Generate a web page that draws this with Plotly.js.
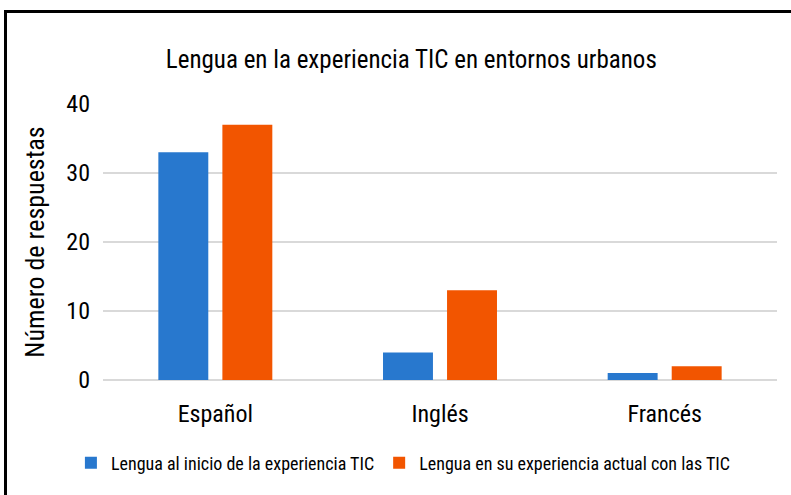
<!DOCTYPE html>
<html>
<head>
<meta charset="utf-8">
<script src="https://cdn.plot.ly/plotly-3.0.1.min.js"></script>
<style>
html,body{margin:0;padding:0;background:#fff;overflow:hidden;}
#wrap{position:relative;width:791px;height:495px;overflow:hidden;}
#chart{position:absolute;left:0;top:0;width:791px;height:495px;}
#frame{position:absolute;left:4px;top:10px;width:820px;height:520px;border:3px solid #000;pointer-events:none;}
</style>
</head>
<body>
<div id="wrap"><div id="chart"></div><div id="frame"></div></div>
<script>
const categories = ["Español", "Inglés", "Francés"];
const seriesNames = ["Lengua al inicio de la experiencia TIC", "Lengua en su experiencia actual con las TIC"];
const inicio = [33, 4, 1];
const actual = [37, 13, 2];
const yTicks = [0, 10, 20, 30, 40];

const FONT = "'Liberation Sans Narrow', 'Roboto Condensed', 'Open Sans', sans-serif";

const traces = [
  {type: "bar", name: seriesNames[0], x: categories, y: inicio, marker: {color: "#2878CE"}},
  {type: "bar", name: seriesNames[1], x: categories, y: actual, marker: {color: "#F25500"}}
];

const layout = {
  width: 791, height: 495,
  margin: {l: 103, r: 14, t: 104, b: 115},
  paper_bgcolor: "#fff", plot_bgcolor: "#fff",
  font: {family: FONT, color: "#000"},
  title: {text: "Lengua en la experiencia TIC en entornos urbanos", font: {size: 25, family: FONT, color: "#000"}, x: 0.52, xanchor: "center", y: 0.88, yanchor: "middle"},
  barmode: "group", bargap: 0.43, bargroupgap: 0.22,
  xaxis: {tickfont: {size: 24, family: FONT}, showline: false, ticks: "", showgrid: false, ticklabelstandoff: 17},
  yaxis: {range: [0, 40], tickvals: yTicks, ticktext: yTicks.map(String), tickfont: {size: 24, family: FONT},
          gridcolor: "#d9d9d9", gridwidth: 2, zeroline: true, zerolinecolor: "#d9d9d9", zerolinewidth: 2,
          ticks: "", ticklen: 0, showline: false, ticklabelstandoff: 12,
          title: {text: "Número de respuestas", font: {size: 26, family: FONT}, standoff: 14}},
  legend: {orientation: "h", xref: "container", yref: "container", x: 0.51, xanchor: "center", y: 32/495, yanchor: "middle",
           font: {size: 18, family: FONT}, traceorder: "normal", itemwidth: 30},
  showlegend: true
};

Plotly.newPlot("chart", traces, layout, {displayModeBar: false, staticPlot: true});
</script>
</body>
</html>
